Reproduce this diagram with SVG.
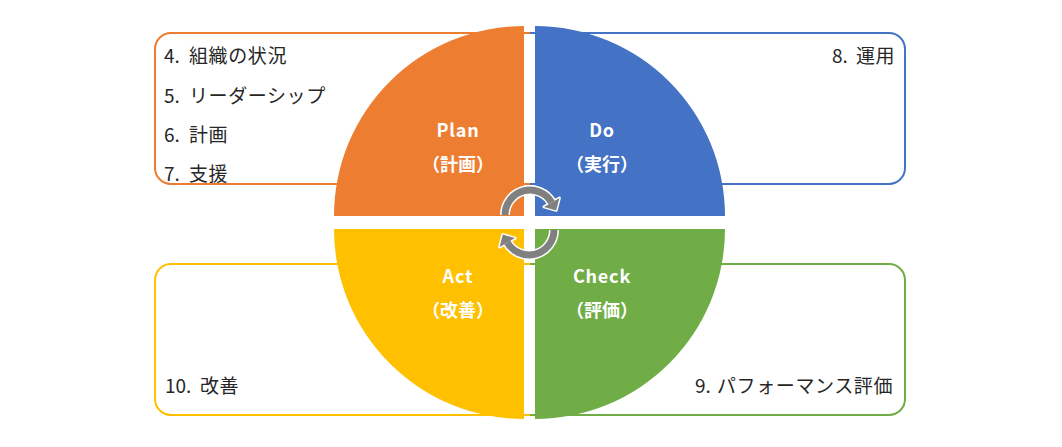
<svg xmlns="http://www.w3.org/2000/svg" width="1062" height="447" viewBox="0 0 1062 447">
<style>
.box{fill:#fff;stroke-width:2}
.item{font-family:"Noto Sans CJK JP","Noto Sans",sans-serif;font-size:19px;fill:#262626}
.item tspan{letter-spacing:0.6px}
.lbl{font-family:"Noto Sans CJK JP","Noto Sans",sans-serif;font-size:18px;font-weight:bold;fill:#fff;text-anchor:middle}
.en{letter-spacing:0.8px}
.arcw{fill:none;stroke:#fff;stroke-width:10}
.arcg{fill:none;stroke:#808080;stroke-width:7}
.headw{fill:#fff;stroke:#fff;stroke-width:3;stroke-linejoin:round}
.headg{fill:#808080}
</style>
<rect width="1062" height="447" fill="#fff"/>
<g id="box-plan"><path class="box" d="M530 33 H171 A16 16 0 0 0 155 49 V168 A16 16 0 0 0 171 184 H530" stroke="#ED7D31"/></g>
<g id="box-do"><path class="box" d="M530 33 H889 A16 16 0 0 1 905 49 V168 A16 16 0 0 1 889 184 H530" stroke="#4472C4"/></g>
<g id="box-act"><path class="box" d="M530 264 H171 A16 16 0 0 0 155 280 V399 A16 16 0 0 0 171 415 H530" stroke="#FFC000"/></g>
<g id="box-check"><path class="box" d="M530 264 H889 A16 16 0 0 1 905 280 V399 A16 16 0 0 1 889 415 H530" stroke="#70AD47"/></g>

<g id="sector-plan"><path d="M524 216 L334 216 A190 190 0 0 1 524 26 Z" fill="#ED7D31"/>
<text class="lbl en" x="458" y="137">Plan</text><text class="lbl" x="458" y="171">（計画）</text></g>
<g id="sector-do"><path d="M535 216 L535 26 A190 190 0 0 1 725 216 Z" fill="#4472C4"/>
<text class="lbl en" x="602" y="137">Do</text><text class="lbl" x="602" y="171">（実行）</text></g>
<g id="sector-act"><path d="M524 229 L524 419 A190 190 0 0 1 334 229 Z" fill="#FFC000"/>
<text class="lbl en" x="458" y="283">Act</text><text class="lbl" x="458" y="317">（改善）</text></g>
<g id="sector-check"><path d="M535 229 L725 229 A190 190 0 0 1 535 419 Z" fill="#70AD47"/>
<text class="lbl en" x="602" y="283">Check</text><text class="lbl" x="602" y="317">（評価）</text></g>

<g id="items">
<text class="item" x="164" y="63">4. <tspan x="189">組織の状況</tspan></text>
<text class="item" x="164" y="103">5. <tspan x="189">リーダーシップ</tspan></text>
<text class="item" x="164" y="142">6. <tspan x="189">計画</tspan></text>
<text class="item" x="164" y="181">7. <tspan x="189">支援</tspan></text>
<text class="item" x="832" y="63">8. <tspan x="856">運用</tspan></text>
<text class="item" x="695" y="393">9. <tspan x="717">パフォーマンス評価</tspan></text>
<text class="item" x="165" y="393">10. <tspan x="200">改善</tspan></text>
</g>

<g id="connectors">
<g id="cycle-top">
<path class="arcw" d="M505 215 A25 25 0 0 1 551.65 202.5"/>
<polygon class="headw" points="559.4,198 544,206.9 556.2,210.4"/>
<path class="arcg" d="M505 215 A25 25 0 0 1 551.65 202.5"/>
<polygon class="headg" points="559.4,198 544,206.9 556.2,210.4"/>
</g>
<g id="cycle-bottom" transform="rotate(180 529.5 222.5)">
<path class="arcw" d="M505 215 A25 25 0 0 1 551.65 202.5"/>
<polygon class="headw" points="559.4,198 544,206.9 556.2,210.4"/>
<path class="arcg" d="M505 215 A25 25 0 0 1 551.65 202.5"/>
<polygon class="headg" points="559.4,198 544,206.9 556.2,210.4"/>
</g>
</g>
</svg>
